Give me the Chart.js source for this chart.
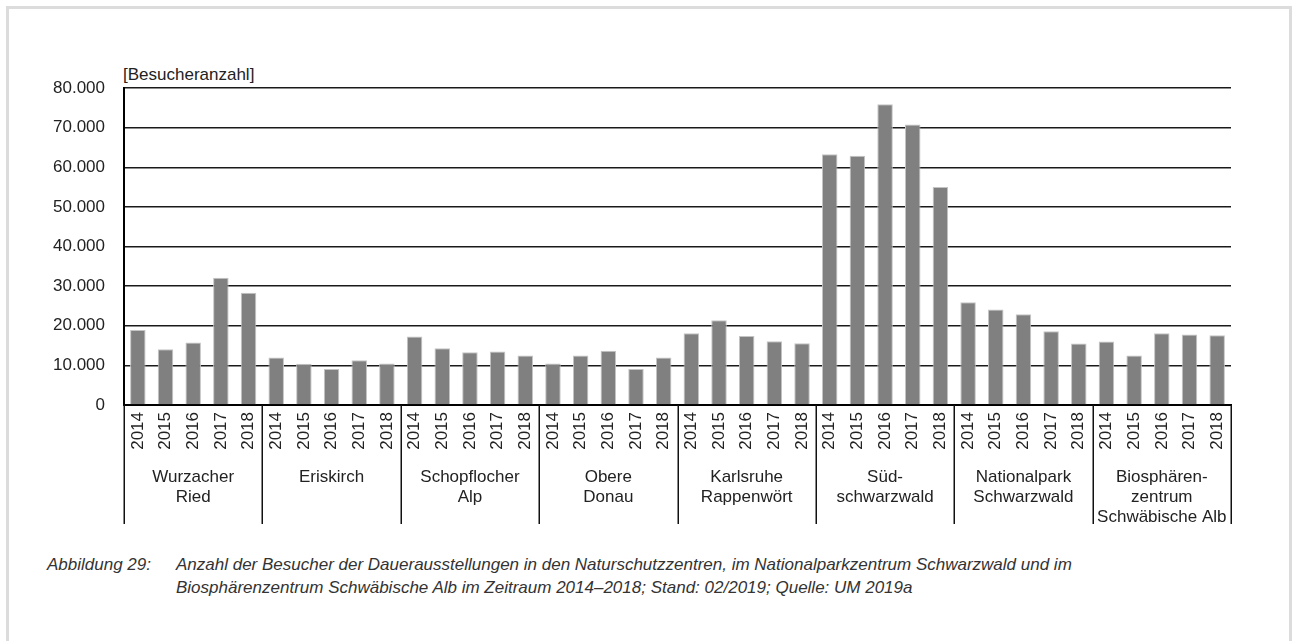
<!DOCTYPE html>
<html lang="de">
<head>
    <meta charset="UTF-8">
    <title>Besucher Dauerausstellungen</title>
    <script src="https://cdn.jsdelivr.net/npm/chart.js@4/dist/chart.umd.min.js"></script>
    <style>
        html, body { margin: 0; padding: 0; background: #fff; overflow: hidden; }
        body { width: 1292px; height: 641px; position: relative; font-family: "Liberation Sans", Arial, sans-serif; color: #222; }
        .frame { position: absolute; left: 6px; top: 6px; width: 1286px; height: 700px; border: 3px solid #dcdcdc; box-sizing: border-box; }
        .unit { position: absolute; left: 123px; top: 65px; font-size: 17px; color: #222; }
        .chartbox { position: absolute; left: 0; top: 0; width: 1292px; height: 530px; }
        .caption { position: absolute; left: 47px; top: 553px; font-size: 17px; font-style: italic; color: #333; line-height: 23px; }
        .caption .lbl { position: absolute; left: 0; top: 0; white-space: nowrap; }
        .caption .txt { position: absolute; left: 129px; top: 0; white-space: nowrap; }
    </style>
</head>
<body>
    <div class="frame"></div>
    <div class="unit">[Besucheranzahl]</div>
    <div class="chartbox"><canvas id="chart" width="1292" height="530"></canvas></div>
    <div class="caption">
        <div class="lbl">Abbildung 29:</div>
        <div class="txt">Anzahl der Besucher der Dauerausstellungen in den Naturschutzzentren, im Nationalparkzentrum Schwarzwald und im<br>Biosphärenzentrum Schwäbische Alb im Zeitraum 2014–2018; Stand: 02/2019; Quelle: UM 2019a</div>
    </div>
    <script>
        // Daten
        const years = ['2014', '2015', '2016', '2017', '2018'];
        const centers = [
            ['Wurzacher', 'Ried'],
            ['Eriskirch'],
            ['Schopflocher', 'Alp'],
            ['Obere', 'Donau'],
            ['Karlsruhe', 'Rappenwört'],
            ['Süd-', 'schwarzwald'],
            ['Nationalpark', 'Schwarzwald'],
            ['Biosphären-', 'zentrum', 'Schwäbische Alb']
        ];
        const wurzacherRied = [18900, 14100, 15800, 32100, 28300];
        const eriskirch = [12000, 10400, 9100, 11300, 10500];
        const schopflocherAlp = [17300, 14300, 13300, 13500, 12500];
        const obereDonau = [10500, 12500, 13700, 9100, 12000];
        const karlsruhe = [18100, 21400, 17400, 16100, 15600];
        const suedschwarzwald = [63300, 62900, 75900, 70800, 55000];
        const nationalpark = [25900, 24100, 22900, 18600, 15500];
        const biosphaere = [16000, 12500, 18100, 17800, 17600];
        const yTickLabels = ['0', '10.000', '20.000', '30.000', '40.000', '50.000', '60.000', '70.000', '80.000'];

        const allValues = [wurzacherRied, eriskirch, schopflocherAlp, obereDonau,
            karlsruhe, suedschwarzwald, nationalpark, biosphaere].flat();
        const labels = centers.flatMap(() => years);

        const FONT = '"Liberation Sans", Arial, sans-serif';

        // Gruppenbeschriftung unter den Jahren
        const groupPlugin = {
            id: 'groups',
            afterDraw(chart) {
                const x = chart.scales.x;
                const ctx = chart.ctx;
                const n = years.length;
                const edge = (i) => {
                    if (i <= 0) return x.left;
                    if (i >= labels.length) return x.right;
                    return (x.getPixelForValue(i - 1) + x.getPixelForValue(i)) / 2;
                };
                ctx.save();
                ctx.strokeStyle = '#111';
                ctx.lineWidth = 1.5;
                for (let g = 0; g <= centers.length; g++) {
                    const px = Math.round(edge(g * n)) + 0.25;
                    ctx.beginPath();
                    ctx.moveTo(px, x.top);
                    ctx.lineTo(px, 524);
                    ctx.stroke();
                }
                ctx.fillStyle = '#222';
                ctx.font = '17px ' + FONT;
                ctx.textAlign = 'center';
                ctx.textBaseline = 'alphabetic';
                centers.forEach((name, g) => {
                    const cx = (edge(g * n) + edge((g + 1) * n)) / 2;
                    name.forEach((line, k) => ctx.fillText(line, cx, 482 + k * 20));
                });
                ctx.restore();
            }
        };

        new Chart(document.getElementById('chart'), {
            type: 'bar',
            data: {
                labels: labels,
                datasets: [{
                    data: allValues,
                    backgroundColor: '#808080',
                    borderColor: '#c4c4c4',
                    borderWidth: 1,
                    barPercentage: 0.56,
                    categoryPercentage: 1
                }]
            },
            options: {
                responsive: false,
                animation: false,
                layout: { padding: { top: 88, right: 61, left: 0, bottom: 0 } },
                plugins: { legend: { display: false }, tooltip: { enabled: false } },
                scales: {
                    x: {
                        grid: { display: false, drawTicks: false },
                        border: { display: true, color: '#000', width: 2 },
                        ticks: {
                            minRotation: 90, maxRotation: 90, autoSkip: false,
                            padding: 7, color: '#222',
                            font: { family: FONT, size: 17 }
                        },
                        afterFit(scale) { scale.height = 125; }
                    },
                    y: {
                        min: 0, max: 80000,
                        grid: { color: '#1a1a1a', lineWidth: 1.5, drawTicks: false },
                        border: { display: true, color: '#000', width: 2 },
                        ticks: {
                            stepSize: 10000, padding: 19, color: '#222',
                            font: { family: FONT, size: 17 },
                            callback: (v) => yTickLabels[Math.round(v / 10000)]
                        },
                        afterFit(scale) { scale.width = 124; }
                    }
                }
            },
            plugins: [groupPlugin]
        });
    </script>
</body>
</html>
